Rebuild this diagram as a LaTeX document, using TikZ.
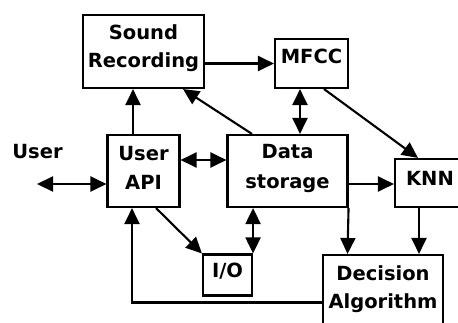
\documentclass[tikz,border=0pt]{standalone}
\usepackage{fontspec}
\setmainfont{DejaVu Sans}
\usetikzlibrary{arrows.meta}
\begin{document}
\begin{tikzpicture}[x=1pt,y=-1pt,
  box/.style={draw,line width=2.1pt,rectangle,inner sep=0pt,fill=none},
  lbl/.style={anchor=base,inner sep=0pt,font=\fontsize{19.5}{28}\selectfont\bfseries},
  arr/.style={line width=2.1pt,-{Triangle[length=16pt,width=15pt]}},
  darr/.style={line width=2.1pt,{Triangle[length=16pt,width=15pt]}-{Triangle[length=16pt,width=15pt]}}]
\useasboundingbox (0,0) rectangle (458,322);
\clip (0,0) rectangle (458,322);
% boxes
\node[box,minimum width=121pt,minimum height=73pt] (sr) at (143.5,51.5) {};
\node[box,minimum width=73pt,minimum height=49pt] (mfcc) at (311.5,63.5) {};
\node[box,minimum width=72pt,minimum height=72pt] (api) at (143.5,171) {};
\node[box,minimum width=120pt,minimum height=72pt] (ds) at (287.5,171) {};
\node[box,minimum width=80pt,minimum height=48pt] (knn) at (435,183) {};
\node[box,minimum width=49pt,minimum height=41pt] (io) at (227.5,275) {};
\node[box,minimum width=120pt,minimum height=95pt] (dec) at (383,302.5) {};
% texts
\node[lbl] (t1) at (143.5,39) {Sound};
\node[lbl] (t2) at (143.5,67) {Recording};
\node[lbl] (t3) at (311.5,63) {MFCC};
\node[lbl] (t4) at (143.5,160) {User};
\node[lbl] (t5) at (143.5,189) {API};
\node[lbl] (t6) at (287.5,158) {Data};
\node[lbl] (t7) at (287.5,188) {storage};
\node[lbl] (t8) at (430,185) {KNN};
\node[lbl] (t9) at (227.5,277) {I/O};
\node[lbl] (t10) at (383,280) {Decision};
\node[lbl] (t11) at (383,308) {Algorithm};
\node[lbl] (user) at (37.5,158) {User};
\coordinate (u) at (37,184);
% connectors
\draw[arr] ([xshift=-10.5pt]api.north) -- ([xshift=-10.5pt]sr.south);
\draw[arr] (sr.east |- mfcc.west) -- (mfcc.west);
\draw[darr] ([xshift=-11.5pt]mfcc.south) -- ([xshift=-11.5pt]ds.north -| mfcc.south);
\draw[arr] ([xshift=-35.5pt]ds.north) -- ([xshift=39.5pt]sr.south);
\draw[arr] ([xshift=12.5pt]mfcc.south) -- ([xshift=-17pt]knn.north);
\draw[darr] ([yshift=11pt]api.east) -- ([yshift=11pt]ds.west);
\draw[arr] ([yshift=-13pt]ds.east) -- ([yshift=-1pt]knn.west);
\draw[arr] (ds.south east) -- ([xshift=-35.5pt]dec.north);
\draw[arr] ([xshift=-16pt]knn.south) -- ([xshift=36pt]dec.north);
\draw[arr] ([xshift=12.5pt]api.south) -- (io.north west);
\draw[darr] (io.north east |- ds.south) -- (io.north east);
\draw[arr] (dec.west) -| ([xshift=-11.5pt]api.south);
\draw[darr] (u) -- ([yshift=-13pt]api.west);
\end{tikzpicture}
\end{document}
